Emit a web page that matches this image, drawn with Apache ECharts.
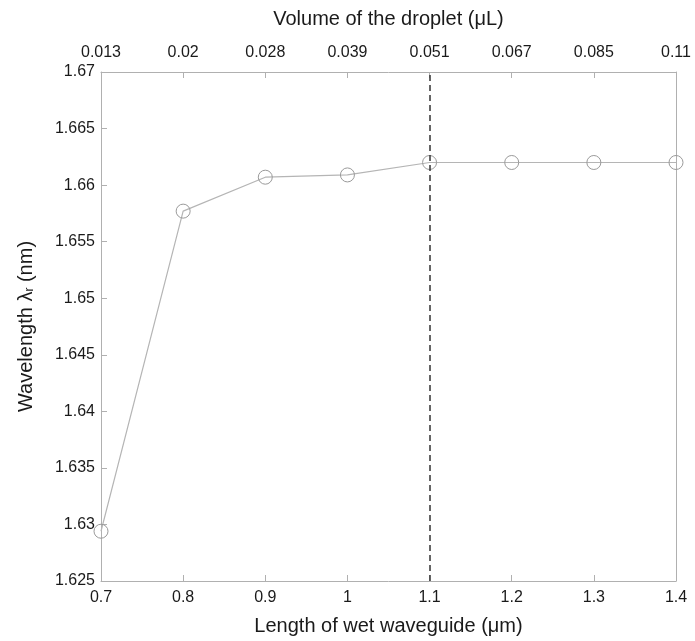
<!DOCTYPE html>
<html>
<head>
<meta charset="utf-8">
<script src="https://cdn.jsdelivr.net/npm/echarts@6/dist/echarts.min.js"></script>
<style>
  html, body { margin: 0; padding: 0; background: #fff; }
  #main { width: 695px; height: 641px; }
</style>
</head>
<body>
<div id="main"></div>
<script>
// wet waveguide length (um) and resonant wavelength
var lengths = [0.7, 0.8, 0.9, 1.0, 1.1, 1.2, 1.3, 1.4];
var wavelengths = [1.6294, 1.6577, 1.6607, 1.6609, 1.662, 1.662, 1.662, 1.662];
// droplet volume labels for the top axis
var volumeLabels = ['0.013', '0.02', '0.028', '0.039', '0.051', '0.067', '0.085', '0.11'];
var markLength = 1.1;

var myChart = echarts.init(document.getElementById('main'));

var font = 'Liberation Sans, Arial, sans-serif';
var axisGray = '#b0b0b0';
var textColor = '#1a1a1a';

var pts = [];
for (var i = 0; i < lengths.length; i++) {
    pts.push([lengths[i], wavelengths[i]]);
}

option = {
    backgroundColor: '#fff',
    animation: false,
    grid: {
        left: 101,
        right: 19,
        top: 72,
        bottom: 58
    },
    xAxis: [{
        type: 'value',
        position: 'bottom',
        min: 0.7,
        max: 1.4,
        interval: 0.1,
        name: 'Length of wet waveguide (\u03bcm)',
        nameLocation: 'middle',
        nameGap: 35,
        nameTextStyle: { fontFamily: font, fontSize: 20, color: textColor },
        axisLine: { show: true, lineStyle: { color: axisGray } },
        axisTick: { show: true, inside: true, length: 6, lineStyle: { color: axisGray } },
        axisLabel: {
            fontFamily: font, fontSize: 16, color: textColor, margin: 9,
            formatter: function (v) { return parseFloat(v.toFixed(2)) + ''; }
        },
        splitLine: { show: false }
    }, {
        type: 'value',
        position: 'top',
        min: 0.7,
        max: 1.4,
        interval: 0.1,
        name: 'Volume of the droplet (\u03bcL)',
        nameLocation: 'middle',
        nameGap: 43,
        nameTextStyle: { fontFamily: font, fontSize: 20, color: textColor },
        axisLine: { show: true, lineStyle: { color: axisGray } },
        axisTick: { show: true, inside: true, length: 6, lineStyle: { color: axisGray } },
        axisLabel: {
            fontFamily: font, fontSize: 16, color: textColor, margin: 11,
            formatter: function (v) {
                return volumeLabels[Math.round((v - 0.7) / 0.1)];
            }
        },
        splitLine: { show: false }
    }],
    yAxis: [{
        type: 'value',
        min: 1.625,
        max: 1.67,
        interval: 0.005,
        name: 'Wavelength \u03bb{sub|r} (nm)',
        nameLocation: 'middle',
        nameGap: 65,
        nameTextStyle: {
            fontFamily: font, fontSize: 20, color: textColor,
            rich: {
                sub: { fontFamily: font, fontSize: 12, color: textColor, verticalAlign: 'bottom', padding: [8, 0, 0, 0] }
            }
        },
        axisLine: { show: true, lineStyle: { color: axisGray } },
        axisTick: { show: true, inside: true, length: 6, lineStyle: { color: axisGray } },
        axisLabel: {
            fontFamily: font, fontSize: 16, color: textColor, margin: 6,
            formatter: function (v) { return parseFloat(v.toFixed(3)) + ''; }
        },
        splitLine: { show: false }
    }, {
        type: 'value',
        position: 'right',
        min: 1.625,
        max: 1.67,
        interval: 0.005,
        axisLine: { show: true, lineStyle: { color: axisGray } },
        axisTick: { show: false },
        axisLabel: { show: false },
        splitLine: { show: false }
    }],
    series: [{
        type: 'line',
        data: pts,
        symbol: 'circle',
        symbolSize: 14,
        itemStyle: { color: 'rgba(255,255,255,0)', borderColor: '#9a9a9a', borderWidth: 1 },
        lineStyle: { color: '#b5b5b5', width: 1.2 },
        markLine: {
            silent: true,
            symbol: ['none', 'none'],
            label: { show: false },
            lineStyle: { color: '#333', type: [6, 4], width: 1.5 },
            data: [{ xAxis: markLength }]
        },
        z: 3
    }]
};
myChart.setOption(option);
</script>
</body>
</html>
